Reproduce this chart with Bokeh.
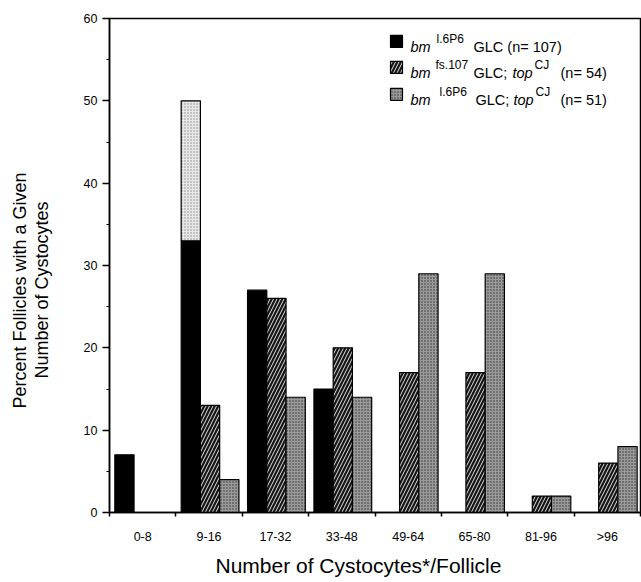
from bokeh.plotting import figure
from bokeh.models import Range1d, FixedTicker, SingleIntervalTicker, Label, Title
from bokeh.embed import file_html
from bokeh.resources import INLINE

# ---------------- data ----------------
categories = ["0-8", "9-16", "17-32", "33-48", "49-64", "65-80", "81-96", ">96"]
bm_l6p6_glc = [7, 33, 27, 15, 0, 0, 0, 0]          # bm l.6P6 GLC (n=107)
bm_l6p6_glc_extra = [0, 17, 0, 0, 0, 0, 0, 0]      # light stippled part stacked on top
bm_fs107_top = [0, 13, 26, 20, 17, 17, 2, 6]       # bm fs.107 GLC; top CJ (n=54)
bm_l6p6_top = [0, 4, 14, 14, 29, 29, 2, 8]         # bm l.6P6 GLC; top CJ (n=51)

FONT = "Liberation Sans"
W, H = 641, 582
FL, FT, FB = 109, 18, 513

p = figure(width=W, height=H, x_range=Range1d(0, 8), y_range=Range1d(0, 60),
           output_backend="svg", toolbar_location=None, title=None,
           min_border_left=FL, min_border_top=FT, min_border_right=1,
           min_border_bottom=H - FB)
p.background_fill_color = "white"
p.border_fill_color = "white"
p.grid.visible = False
p.outline_line_color = "black"
p.outline_line_width = 1.5

# reference-pixel -> data helpers (for legend layout only)
def dx(px):
    return (px - 109) / 66.375

def dy(py):
    return (513 - py) / 8.25

BW = 0.29
OFF = [0.225, 0.515, 0.805]

STYLE_BLACK = dict(fill_color="black", line_color="black", line_width=1.2)
STYLE_HATCH = dict(fill_color="#151515", line_color="black", line_width=1.2,
                   hatch_pattern="/", hatch_color="#e0e0e0", hatch_scale=7, hatch_weight=1.0)
STYLE_GREY = dict(fill_color="#9a9a9a", line_color="black", line_width=1.2,
                  hatch_pattern=".", hatch_color="#303030", hatch_scale=3, hatch_weight=1)
STYLE_LIGHT = dict(fill_color="#e8e8e8", line_color="black", line_width=1.2,
                   hatch_pattern=".", hatch_color="#8a8a8a", hatch_scale=3, hatch_weight=1)

def draw(offset, tops, bottoms, style):
    xs = [i + offset for i, t in enumerate(tops) if t > 0]
    tp = [b + t for t, b in zip(tops, bottoms) if t > 0]
    bt = [b for t, b in zip(tops, bottoms) if t > 0]
    p.vbar(x=xs, top=tp, bottom=bt, width=BW, **style)

zeros = [0] * len(categories)
draw(OFF[0], bm_l6p6_glc, zeros, STYLE_BLACK)
draw(OFF[0], bm_l6p6_glc_extra, bm_l6p6_glc, STYLE_LIGHT)
draw(OFF[1], bm_fs107_top, zeros, STYLE_HATCH)
draw(OFF[2], bm_l6p6_top, zeros, STYLE_GREY)

# ---------------- axes ----------------
xa = p.xaxis[0]
xa.ticker = FixedTicker(ticks=[i + 0.5 for i in range(len(categories))],
                        minor_ticks=list(range(len(categories) + 1)))
xa.major_label_overrides = {i + 0.5: c for i, c in enumerate(categories)}
xa.major_tick_out = 0
xa.major_tick_in = 0
xa.minor_tick_out = 4
xa.minor_tick_in = 0
xa.minor_tick_line_color = "black"
xa.minor_tick_line_width = 1.5
xa.axis_line_color = "black"
xa.axis_line_width = 1.5
xa.major_label_standoff = 13
xa.major_label_text_font = FONT
xa.major_label_text_font_size = "12.5px"
xa.major_label_text_color = "black"

ya = p.yaxis[0]
ya.ticker = SingleIntervalTicker(interval=10, num_minor_ticks=2)
ya.major_tick_out = 7
ya.major_tick_in = 0
ya.minor_tick_out = 3
ya.minor_tick_in = 0
ya.major_tick_line_color = "black"
ya.major_tick_line_width = 1.5
ya.minor_tick_line_color = "black"
ya.minor_tick_line_width = 1.2
ya.axis_line_color = "black"
ya.axis_line_width = 1.5
ya.major_label_standoff = 5
ya.major_label_text_font = FONT
ya.major_label_text_font_size = "12.5px"
ya.major_label_text_color = "black"

# ---------------- axis titles (as side-panel titles) ----------------
def side_title(text, size, offset, standoff):
    return Title(text=text, align="left", offset=offset, standoff=standoff,
                 text_font=FONT, text_font_size=size, text_font_style="normal",
                 text_color="black")

p.add_layout(side_title("Number of Cystocytes*/Follicle", "21px", 106, 11), "below")
# blank spacer between the tick labels and the two-line y title
p.add_layout(Title(text=" ", text_font_size="10px", standoff=16), "left")
p.add_layout(side_title("Number of Cystocytes", "18px", 134, 0), "left")
p.add_layout(side_title("Percent Follicles with a Given", "18px", 104, 0), "left")

# ---------------- legend (rich text) ----------------
rows = [
    (41, 47, STYLE_BLACK, [("bm", 410, "i"), ("l.6P6", 436, "s"), ("GLC (n= 107)", 473, "n")]),
    (67, 73, STYLE_HATCH, [("bm", 410, "i"), ("fs.107", 435, "s"), ("GLC;", 473, "n"),
                           ("top", 512, "i"), ("CJ", 534, "s"), ("(n= 54)", 560, "n")]),
    (94, 100, STYLE_GREY, [("bm", 410, "i"), ("l.6P6", 439, "s"), ("GLC;", 475, "n"),
                           ("top", 513, "i"), ("CJ", 535, "s"), ("(n= 51)", 560, "n")]),
]
for cy, base, style, parts in rows:
    p.rect(x=dx(396), y=dy(cy), width=12, height=12, width_units="screen",
           height_units="screen", **style)
    for txt, px, kind in parts:
        if kind == "s":
            p.add_layout(Label(x=dx(px), y=dy(base - 8), text=txt, text_align="left",
                               text_baseline="alphabetic", text_font=FONT,
                               text_font_size="12px", text_color="black"))
        else:
            p.add_layout(Label(x=dx(px), y=dy(base), text=txt, text_align="left",
                               text_baseline="alphabetic", text_font=FONT,
                               text_font_size="14.5px", text_color="black",
                               text_font_style="italic" if kind == "i" else "normal"))

open("out.html", "w").write(file_html(p, INLINE))
